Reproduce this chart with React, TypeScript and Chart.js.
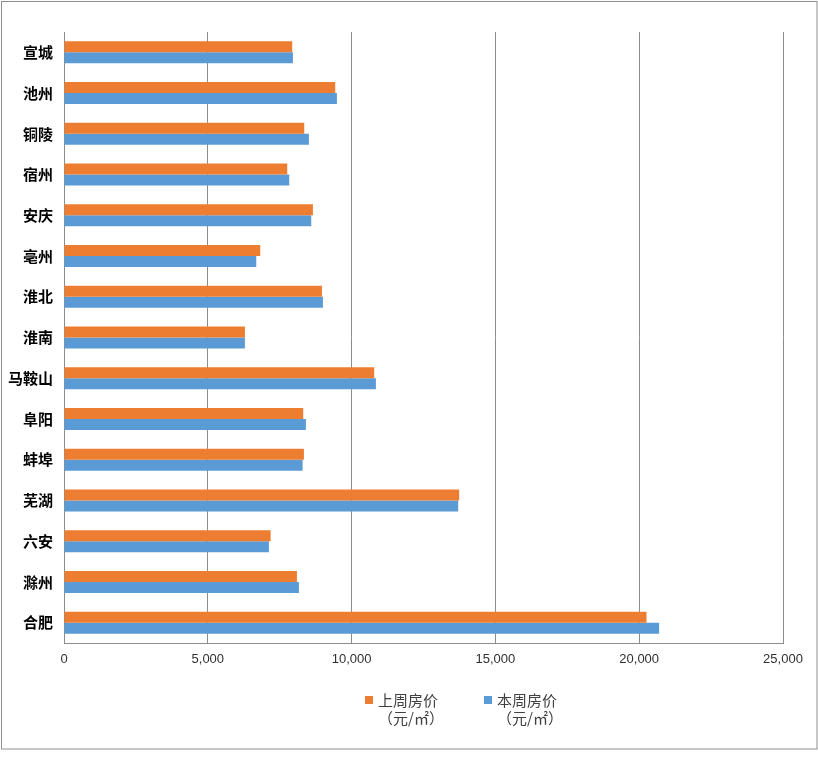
import React, { useEffect, useRef } from 'react';
import { Chart, registerables } from 'chart.js';

Chart.register(...registerables);

const categories = ['宣城', '池州', '铜陵', '宿州', '安庆', '亳州', '淮北', '淮南', '马鞍山', '阜阳', '蚌埠', '芜湖', '六安', '滁州', '合肥'];
const lastWeek = [7935, 9431, 8353, 7762, 8655, 6824, 8968, 6291, 10786, 8318, 8342, 13740, 7184, 8099, 20254];
const thisWeek = [7960, 9489, 8516, 7831, 8597, 6685, 9003, 6291, 10845, 8411, 8296, 13706, 7125, 8168, 20692];
const seriesNames = ['上周房价', '本周房价'];
const seriesUnits = ['（元/㎡）', '（元/㎡）'];
const seriesColors = ['#ED7D31', '#5B9BD5'];
const xMin = 0;
const xMax = 25000;
const xStep = 5000;

const W = 818;
const H = 779;

const framePlugin = {
  id: 'frame',
  beforeDraw(chart: any) {
    const ctx = chart.ctx;
    ctx.save();
    ctx.fillStyle = '#ffffff';
    ctx.fillRect(0, 0, chart.width, chart.height);
    ctx.strokeStyle = '#8f8f8f';
    ctx.lineWidth = 1;
    ctx.strokeRect(1.5, 1.5, 815.5, 747.5);
    ctx.restore();
  },
};

const legendPlugin = {
  id: 'customLegend',
  afterDraw(chart: any) {
    const ctx = chart.ctx;
    ctx.save();
    const starts = [365, 484];
    chart.data.datasets.forEach((ds: any, i: number) => {
      const x = starts[i];
      ctx.fillStyle = ds.backgroundColor;
      ctx.fillRect(x, 696, 8, 8);
      ctx.fillStyle = '#404040';
      ctx.font = '15px "Noto Sans CJK SC"';
      ctx.textBaseline = 'middle';
      ctx.textAlign = 'left';
      ctx.fillText(seriesNames[i], x + 13, 700);
      ctx.fillText(seriesUnits[i], x + 13, 718);
    });
    ctx.restore();
  },
};

export default function App() {
  const ref = useRef<HTMLCanvasElement | null>(null);

  useEffect(() => {
    document.body.style.margin = '0';
    const canvas = ref.current;
    if (!canvas) return;
    const chart = new Chart(canvas, {
      type: 'bar',
      data: {
        labels: categories,
        datasets: [
          {
            label: seriesNames[0] + seriesUnits[0],
            data: lastWeek,
            backgroundColor: seriesColors[0],
            categoryPercentage: 0.54,
            barPercentage: 1,
          },
          {
            label: seriesNames[1] + seriesUnits[1],
            data: thisWeek,
            backgroundColor: seriesColors[1],
            categoryPercentage: 0.54,
            barPercentage: 1,
          },
        ],
      },
      options: {
        indexAxis: 'y',
        responsive: false,
        animation: false,
        maintainAspectRatio: false,
        layout: {
          padding: { left: 0, right: 35, top: 32, bottom: 96 },
        },
        plugins: {
          legend: { display: false },
          tooltip: { enabled: false },
        },
        scales: {
          x: {
            min: xMin,
            max: xMax,
            ticks: {
              stepSize: xStep,
              padding: 9,
              color: '#303030',
              font: { family: '"Liberation Sans", sans-serif', size: 13 },
              maxRotation: 0,
            },
            grid: {
              color: '#8c8c8c',
              lineWidth: 1,
              drawTicks: false,
            },
            border: { display: true, color: '#8c8c8c', width: 1 },
            afterFit(scale: any) {
              scale.height = 40;
            },
          },
          y: {
            ticks: {
              padding: 11,
              color: '#000000',
              font: { family: '"Noto Sans CJK SC", sans-serif', size: 15, weight: 'bold' },
            },
            grid: { display: false, drawTicks: false },
            border: { display: true, color: '#8c8c8c', width: 1 },
            afterFit(scale: any) {
              scale.width = 64;
            },
          },
        },
      },
      plugins: [framePlugin, legendPlugin],
    } as any);
    return () => chart.destroy();
  }, []);

  return (
    <div style={{ width: W, height: H }}>
      <canvas ref={ref} width={W} height={H} style={{ width: W, height: H, display: 'block' }} />
    </div>
  );
}
